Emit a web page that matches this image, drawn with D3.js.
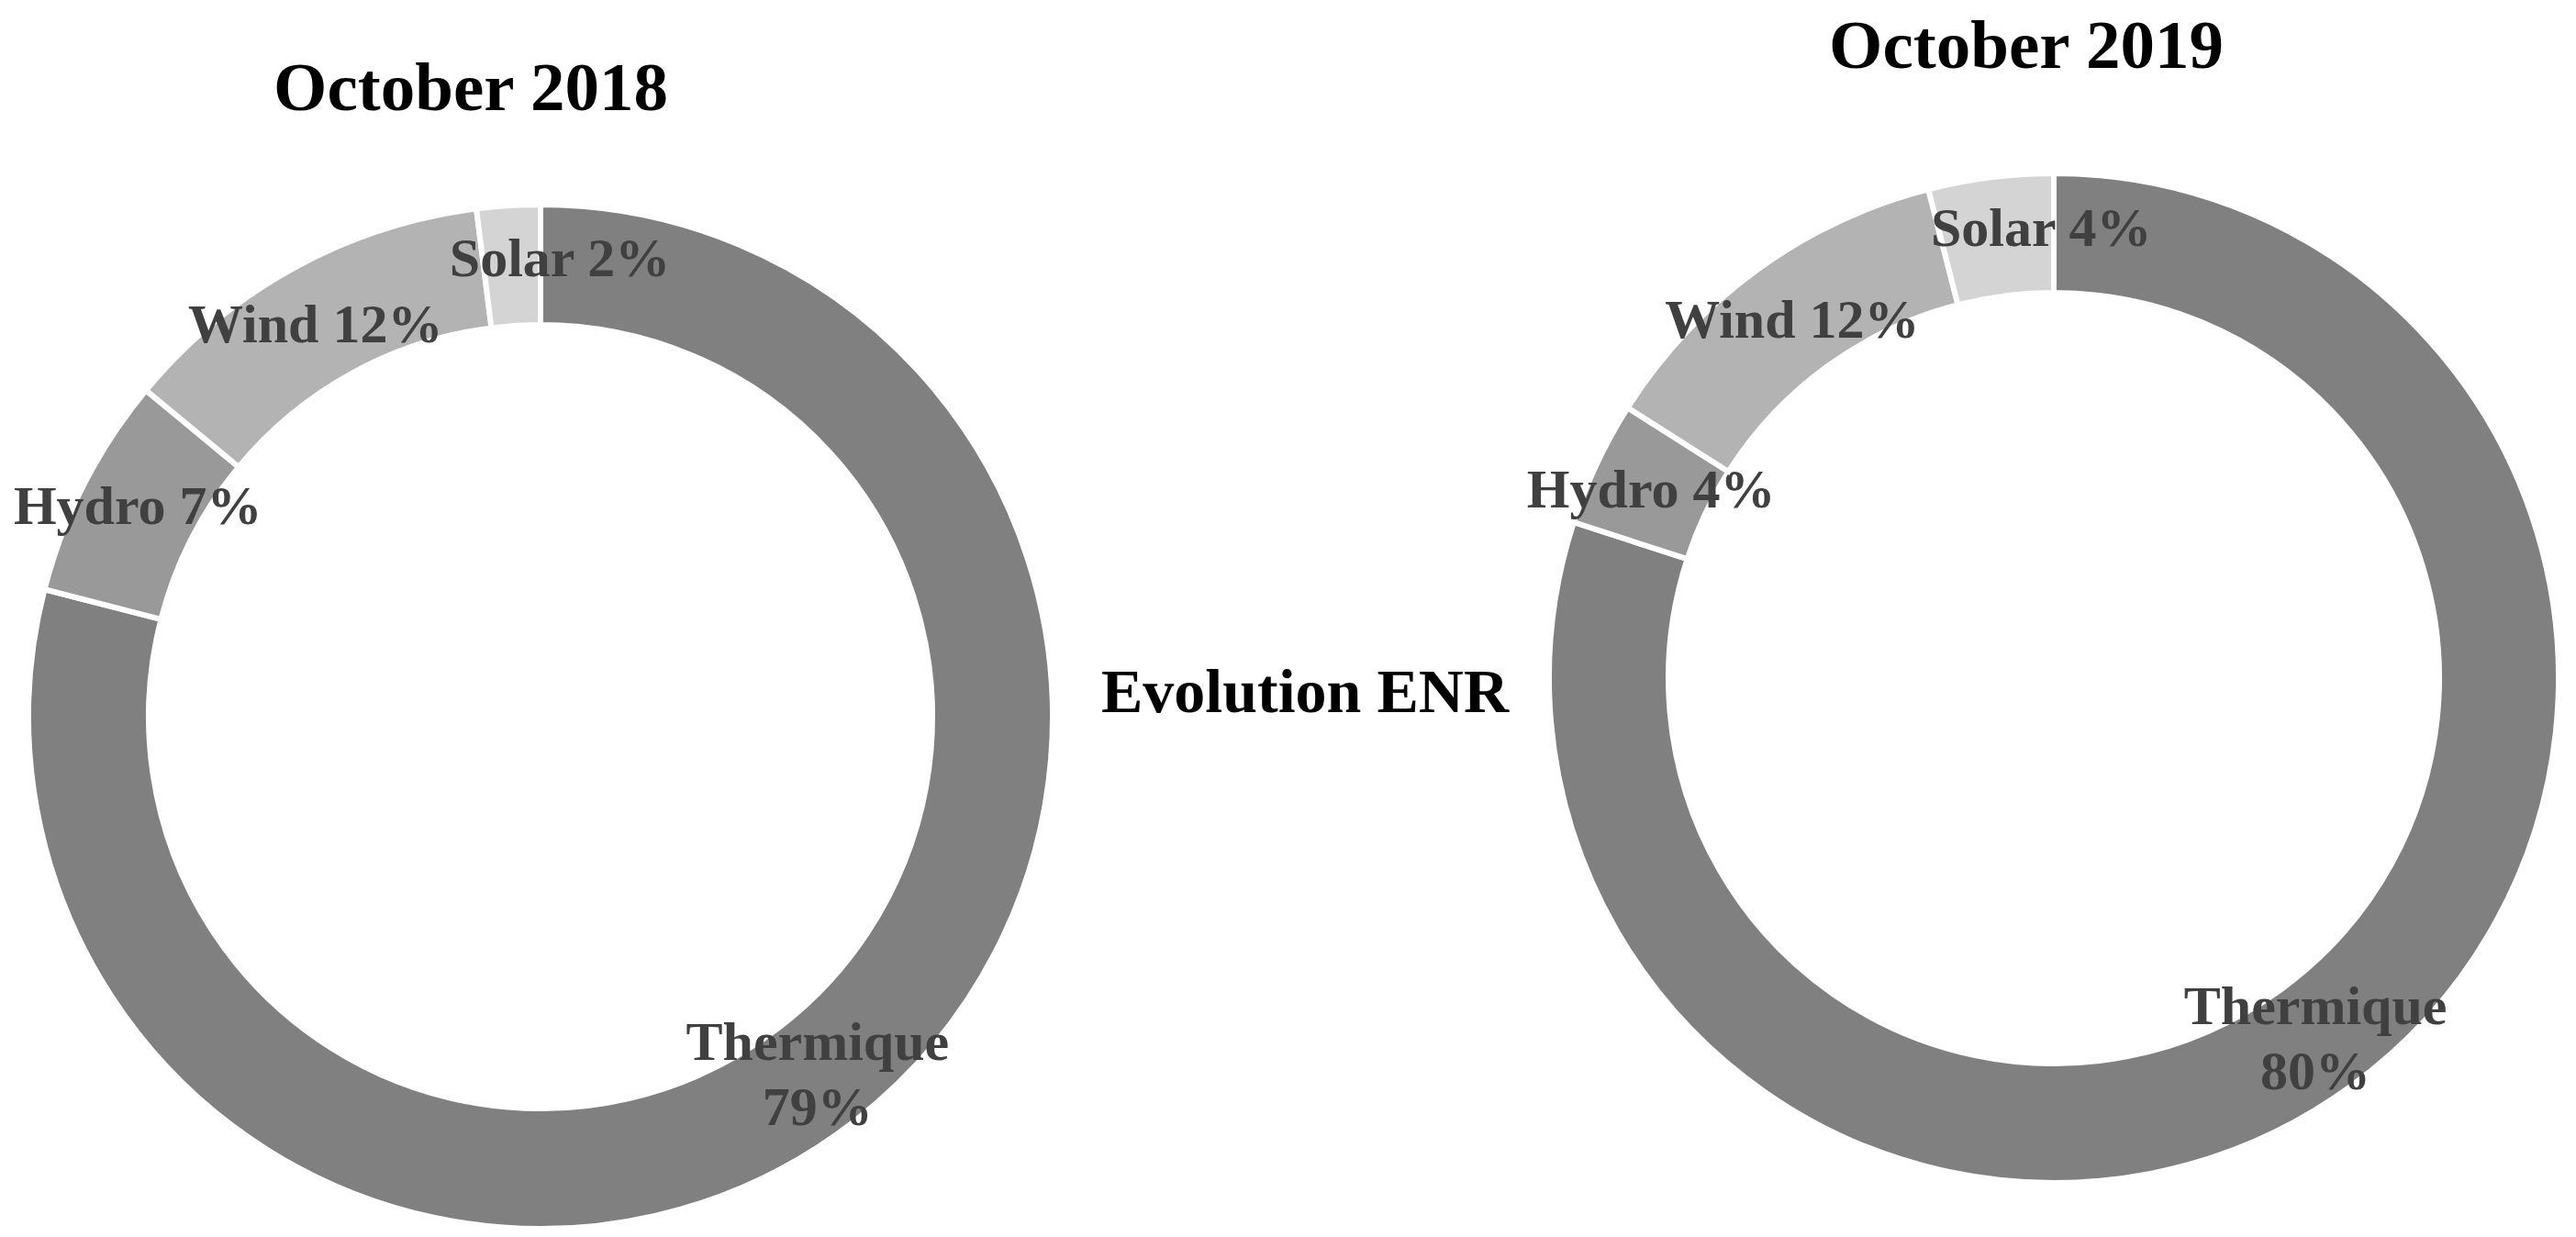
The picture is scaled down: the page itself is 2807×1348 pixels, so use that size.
<!DOCTYPE html>
<meta charset="utf-8">
<style>
body { margin: 0; background: #fff; }
text { font-family: "Liberation Serif", "Times New Roman", serif; font-weight: bold; }
.arc path { stroke: #fff; stroke-width: 6px; }
.arc text { font-size: 60px; fill: #404040; text-anchor: middle; }
.title { font-size: 75px; fill: #000; text-anchor: middle; }
</style>
<body>
<script src="https://cdn.jsdelivr.net/npm/d3@7"></script>
<script>

var categories = ["Thermique", "Hydro", "Wind", "Solar"];
var values2018 = [79, 7, 12, 2];
var values2019 = [80, 4, 12, 4];
var titles = ["October 2018", "October 2019"];
var mainTitle = "Evolution ENR";

var width = 2807,
    height = 1348;

var color = d3.scaleOrdinal()
    .domain(categories)
    .range(["#808080", "#999999", "#b3b3b3", "#d4d4d4"]);

// donut layout: centre, radii, title spot, label nudges
var charts = [
  { values: values2018, title: titles[0], cx: 589, cy: 781, outer: 558, inner: 427,
    tx: 513, ty: 120, nudge: { Solar: [52, -9], Wind: [-8, 3], Hydro: [0, -7] } },
  { values: values2019, title: titles[1], cx: 2238, cy: 739, outer: 550, inner: 420,
    tx: 2208, ty: 74, nudge: { Solar: [47, -11] } }
];

var svg = d3.select("body").append("svg")
    .attr("width", width)
    .attr("height", height);

var pie = d3.pie()
    .sort(null)
    .value(function(d) { return d.value; });

charts.forEach(function(c) {
  var data = categories.map(function(name, i) { return { name: name, value: c.values[i] }; });

  var arc = d3.arc()
      .outerRadius(c.outer)
      .innerRadius(c.inner);

  var g = svg.append("g")
      .attr("transform", "translate(" + c.cx + "," + c.cy + ")");

  var slice = g.selectAll(".arc")
      .data(pie(data))
    .enter().append("g")
      .attr("class", "arc");

  slice.append("path")
      .attr("d", arc)
      .style("fill", function(d) { return color(d.data.name); });

  slice.append("text")
      .attr("transform", function(d) {
        var p = arc.centroid(d), n = c.nudge[d.data.name] || [0, 0];
        return "translate(" + (p[0] + n[0]) + "," + (p[1] + n[1]) + ")";
      })
      .each(function(d) {
        var t = d3.select(this);
        if (d.data.name === "Thermique") {
          t.append("tspan").attr("x", 0).attr("dy", "-0.25em").text(d.data.name);
          t.append("tspan").attr("x", 0).attr("dy", "1.18em").text(d.data.value + "%");
        } else {
          t.attr("dy", ".35em").text(d.data.name + " " + d.data.value + "%");
        }
      });

  svg.append("text")
      .attr("class", "title")
      .attr("x", c.tx)
      .attr("y", c.ty)
      .text(c.title);
});

svg.append("text")
    .attr("class", "title")
    .attr("x", 1422)
    .attr("y", 776)
    .style("font-size", "68px")
    .text(mainTitle);

</script>
